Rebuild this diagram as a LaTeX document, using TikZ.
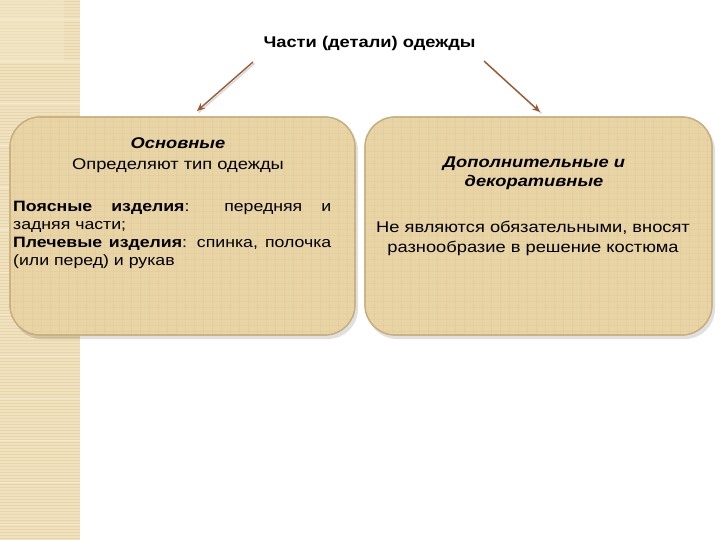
\documentclass[tikz,border=0pt]{standalone}
\usepackage{fontspec}
\setmainfont[FakeStretch=1.18]{Liberation Sans}
\usetikzlibrary{arrows.meta}
\definecolor{strip}{HTML}{F0E2BE}
\definecolor{stripline}{HTML}{E7D5AC}
\definecolor{stripl}{HTML}{F5EACD}
\definecolor{boxfill}{HTML}{E8D4A5}
\definecolor{boxedge}{HTML}{C8AE7C}
\definecolor{boxtex}{HTML}{D9C08E}
\definecolor{arrowc}{HTML}{9A5B32}
\tikzset{
  panel/.style={draw=boxedge, line width=1.2pt, fill=boxfill, rounded corners=30pt},
  panelshadow/.style={fill=black, opacity=0.12, rounded corners=30pt},
  conn/.style={draw=arrowc, line width=1.4pt, -{Stealth[length=8pt,width=7pt]}},
  connshadow/.style={draw=black, opacity=0.15, line width=1.6pt},
  titletext/.style={font=\fontsize{15.5}{19}\selectfont\bfseries, inner sep=0pt},
  headtext/.style={font=\fontsize{15.5}{19.5}\selectfont\bfseries\itshape, inner sep=0pt, align=center},
  bodytext/.style={font=\fontsize{15.5}{19.5}\selectfont, inner sep=0pt, align=center},
  paratext/.style={font=\fontsize{15}{18}\selectfont, inner sep=0pt, text width=318pt, align=justify},
}
\begin{document}
\begin{tikzpicture}[x=1pt,y=-1pt]
\useasboundingbox (0,0) rectangle (720,540);
\fill[white] (0,0) rectangle (720,540);
% left decorative strip
\fill[strip] (0,0) rectangle (80,540);
\foreach \yy in {1,4,...,540} \draw[stripline, line width=0.7pt] (0,\yy) -- (80,\yy);
\foreach \yy in {20,62,...,540} \draw[stripl, line width=1pt] (0,\yy) -- (80,\yy);
\fill[stripl, opacity=0.4] (0,0) rectangle (64,63);
\begin{scope}
\clip (0,0) rectangle (80,540);
\draw[stripl, line width=5pt] (64,0) arc[start angle=0, end angle=-70, radius=70];
\draw[stripline, line width=1pt] (56,0) arc[start angle=0, end angle=-60, radius=60];
\draw[stripl, line width=7pt] (20,135) arc[start angle=180, end angle=70, radius=55];
\draw[stripline, line width=1pt] (14,135) arc[start angle=180, end angle=70, radius=62];
\end{scope}
% panels
\fill[panelshadow] (12,121) rectangle (358,339);
\fill[panelshadow] (367,121) rectangle (715,339);
\path[panel] (10,117) rectangle (355,335);
\path[panel] (365,117) rectangle (712,335);
\begin{scope}
\clip[rounded corners=30pt] (10,117) rectangle (355,335) (365,117) rectangle (712,335);
\foreach \xx in {14,23,...,712} \draw[boxtex, opacity=0.25, line width=0.6pt] (\xx,117) -- (\xx,335);
\foreach \yy in {121,127,...,335} \draw[boxtex, opacity=0.22, line width=0.5pt] (0,\yy) -- (720,\yy);
\end{scope}
\draw[boxedge, line width=1.2pt, rounded corners=30pt] (10,117) rectangle (355,335);
\draw[boxedge, line width=1.2pt, rounded corners=30pt] (365,117) rectangle (712,335);
\node[inner sep=0pt, minimum width=345pt, minimum height=218pt] (L) at (182.5,226) {};
\node[inner sep=0pt, minimum width=347pt, minimum height=218pt] (R) at (538.5,226) {};
% title
\node[titletext, anchor=base] (T) at (369.5,48) {Части (детали) одежды};
% arrows
\coordinate (a1s) at (253,62);
\coordinate (a1e) at (197,111);
\coordinate (a2s) at (484,61);
\coordinate (a2e) at (540,112);
\draw[connshadow] ([xshift=1.5pt,yshift=-1.5pt]a1s) -- ([xshift=1.5pt,yshift=-1.5pt]a1e);
\draw[connshadow] ([xshift=1.5pt,yshift=-1.5pt]a2s) -- ([xshift=1.5pt,yshift=-1.5pt]a2e);
\draw[conn] (a1s) -- (a1e);
\draw[conn] (a2s) -- (a2e);
% left panel text
\node[headtext, anchor=base] (Lh) at (178,149) {Основные};
\node[bodytext, anchor=base] (Lb) at (178,170) {Определяют тип одежды};
\node[paratext, anchor=north west] (Lp) at (13,198.4) {\strut\textbf{Поясные изделия}: передняя и\linebreak задняя части;\par\strut\textbf{Плечевые изделия}: спинка, полочка (или перед) и рукав};
% right panel text
\node[headtext, anchor=base] (Rh) at (534,187) {Дополнительные и\\декоративные};
\node[bodytext, anchor=base] (Rb) at (533,252) {Не являются обязательными, вносят\\разнообразие в решение костюма};
\end{tikzpicture}
\end{document}
